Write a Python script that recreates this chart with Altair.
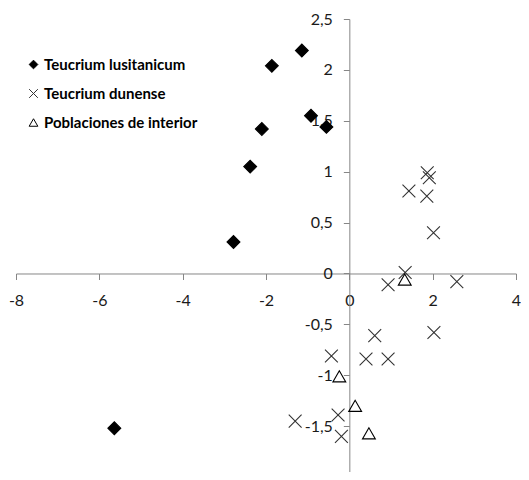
import altair as alt
import pandas as pd

series_names = ["Teucrium lusitanicum", "Teucrium dunense", "Poblaciones de interior"]

lus_x = [-1.14, -1.86, -0.92, -0.55, -2.10, -2.38, -2.78, -5.64]
lus_y = [2.19, 2.04, 1.55, 1.44, 1.42, 1.05, 0.31, -1.52]

dun_x = [1.87, 1.92, 1.43, 1.86, 2.02, 1.34, 0.93, 2.58, 2.03, 0.61, -0.43, 0.40, 0.93, -0.27, -1.30, -0.19]
dun_y = [0.99, 0.94, 0.81, 0.76, 0.40, 0.01, -0.11, -0.08, -0.58, -0.61, -0.81, -0.84, -0.84, -1.39, -1.45, -1.60]

int_x = [1.33, -0.24, 0.14, 0.47]
int_y = [-0.06, -1.01, -1.30, -1.57]

x_ticks = [-8, -6, -4, -2, 0, 2, 4]
y_ticks = [-2, -1.5, -1, -0.5, 0, 0.5, 1, 1.5, 2, 2.5]

rows = []
for name, xs, ys in zip(series_names, [lus_x, dun_x, int_x], [lus_y, dun_y, int_y]):
    for a, b in zip(xs, ys):
        rows.append({"serie": name, "x": a, "y": b})
df = pd.DataFrame(rows)

W = 500
H = 453
Y_MIN = -1.95
Y_MAX = 2.5
x_off = -(H * (0 - Y_MIN) / (Y_MAX - Y_MIN))
y_off = -(W * 8 / 12)

label_expr = "replace(toString(datum.value), '.', ',')"

axis_common = dict(
    grid=False, title=None, domainColor="#868686", tickColor="#868686",
    domainWidth=1, tickWidth=1, tickSize=6, labelFont="Lato", labelFontSize=16,
    labelColor="#1a1a1a", labelExpr=label_expr, labelOverlap=False, labelFlush=False,
)

legend = alt.Legend(
    title=None, orient="none", legendX=10, legendY=38, padding=0,
    labelFont="Lato", labelFontSize=15, labelFontWeight="bold", labelColor="#000000",
    symbolSize=75, symbolStrokeWidth=1, rowPadding=13, labelOffset=3,
)

xshape = "M-1,-1L1,1M1,-1L-1,1"

chart = alt.Chart(df).mark_point(filled=True, size=165, strokeWidth=1.1, opacity=1).encode(
    x=alt.X("x:Q", scale=alt.Scale(domain=[-8, 4], nice=False, zero=False),
            axis=alt.Axis(values=x_ticks, offset=x_off, labelPadding=13, **axis_common)),
    y=alt.Y("y:Q", scale=alt.Scale(domain=[Y_MIN, Y_MAX], nice=False, zero=False),
            axis=alt.Axis(values=y_ticks, offset=y_off, labelPadding=11, **axis_common)),
    shape=alt.Shape("serie:N", scale=alt.Scale(domain=series_names, range=["diamond", xshape, "triangle-up"]), legend=legend),
    fill=alt.Fill("serie:N", scale=alt.Scale(domain=series_names, range=["#000000", "transparent", "transparent"]), legend=legend),
    stroke=alt.Stroke("serie:N", scale=alt.Scale(domain=series_names, range=["#000000", "#333333", "#000000"]), legend=legend),
).properties(
    width=W, height=H, autosize="none",
    padding={"left": 8, "top": 11, "right": 5, "bottom": 0},
).configure_view(stroke=None)

chart.save("out.html", embed_options={"renderer": "svg", "actions": False})
